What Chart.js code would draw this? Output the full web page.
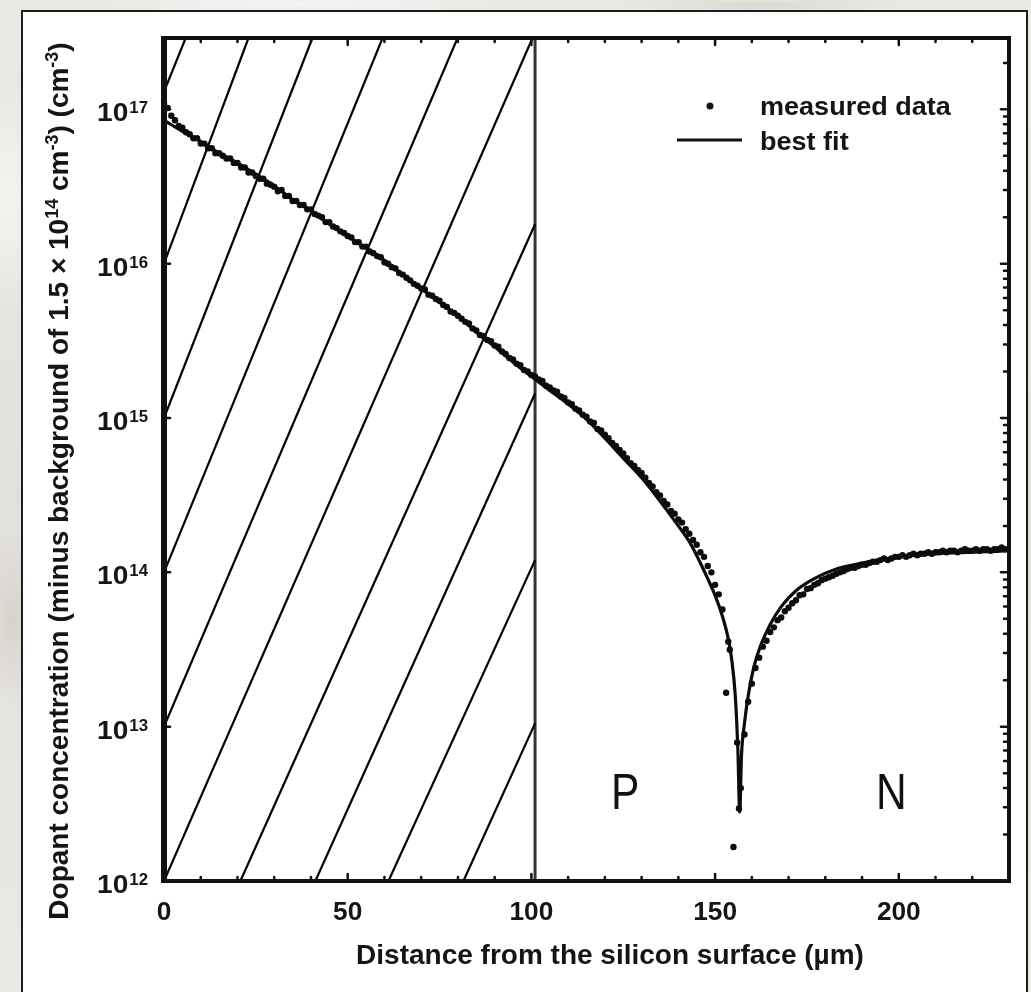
<!DOCTYPE html>
<html>
<head>
<meta charset="utf-8">
<title>Dopant profile</title>
<script src="https://cdn.jsdelivr.net/npm/chart.js@4.4.1/dist/chart.umd.min.js"></script>
<style>
  html, body { margin: 0; padding: 0; width: 1031px; height: 992px; overflow: hidden; }
  body {
    background-color: #e7e5e0;
    background-image:
      radial-gradient(ellipse 40px 120px at 8px 200px, rgba(255,255,255,0.55), transparent),
      radial-gradient(ellipse 30px 90px at 12px 620px, rgba(200,196,188,0.5), transparent),
      radial-gradient(ellipse 200px 14px at 300px 4px, rgba(255,255,255,0.5), transparent),
      radial-gradient(ellipse 160px 10px at 760px 5px, rgba(205,201,194,0.5), transparent),
      linear-gradient(180deg, #ebe9e4, #e2e0da 50%, #ebe9e5);
  }
  #card {
    position: absolute; left: 21px; top: 10px;
    width: 1003px; height: 1000px;
    background: #fff; border: 2px solid #1c1c1c;
  }
  #wrap { position: absolute; left: 0; top: 0; width: 1031px; height: 992px; }
</style>
</head>
<body>
<div id="card"></div>
<div id="wrap"><canvas id="profileChart"></canvas></div>
<script>
// measured profile, depth in um and concentration in cm^-3
const measuredDepth = [
  0, 1, 2, 3, 4, 5, 6, 7, 8, 9,
  10, 11, 12, 13, 14, 15, 16, 17, 18, 19,
  20, 21, 22, 23, 24, 25, 26, 27, 28, 29,
  30, 31, 32, 33, 34, 35, 36, 37, 38, 39,
  40, 41, 42, 43, 44, 45, 46, 47, 48, 49,
  50, 51, 52, 53, 54, 55, 56, 57, 58, 59,
  60, 61, 62, 63, 64, 65, 66, 67, 68, 69,
  70, 71, 72, 73, 74, 75, 76, 77, 78, 79,
  80, 81, 82, 83, 84, 85, 86, 87, 88, 89,
  90, 91, 92, 93, 94, 95, 96, 97, 98, 99,
  100, 101, 102, 103, 104, 105, 106, 107, 108, 109,
  110, 111, 112, 113, 114, 115, 116, 117, 118, 119,
  120, 121, 122, 123, 124, 125, 126, 127, 128, 129,
  130, 131, 132, 133, 134, 135, 136, 137, 138, 139,
  140, 141, 142, 143, 144, 145, 146, 147, 148, 149,
  150, 151, 152, 153, 153.6, 154, 155, 156, 156.5, 157, 158, 159,
  160, 161, 162, 163, 164, 165, 166, 167, 168, 169,
  170, 171, 172, 173, 174, 175, 176, 177, 178, 179,
  180, 181, 182, 183, 184, 185, 186, 187, 188, 189,
  190, 191, 192, 193, 194, 195, 196, 197, 198, 199,
  200, 201, 202, 203, 204, 205, 206, 207, 208, 209,
  210, 211, 212, 213, 214, 215, 216, 217, 218, 219,
  220, 221, 222, 223, 224, 225, 226, 227, 228, 229, 230
];
const measuredConc = [
  1.1e17, 1.02e17, 9.1e16, 8.5e16, 7.8e16, 7.6e16, 7.1e16, 6.9e16, 6.5e16, 6.5e16,
  6.0e16, 6.0e16, 5.6e16, 5.6e16, 5.2e16, 5.2e16, 5.0e16, 4.8e16, 4.8e16, 4.5e16,
  4.5e16, 4.2e16, 4.2e16, 3.9e16, 3.9e16, 3.7e16, 3.55e16, 3.55e16, 3.3e16, 3.25e16,
  3.15e16, 2.95e16, 3.0e16, 2.75e16, 2.75e16, 2.55e16, 2.55e16, 2.4e16, 2.4e16, 2.25e16,
  2.25e16, 2.1e16, 2.05e16, 2.0e16, 1.86e16, 1.86e16, 1.74e16, 1.7e16, 1.62e16, 1.58e16,
  1.51e16, 1.48e16, 1.38e16, 1.38e16, 1.29e16, 1.29e16, 1.2e16, 1.17e16, 1.12e16, 1.1e16,
  1.02e16, 1.0e16, 9.5e15, 9.3e15, 8.7e15, 8.5e15, 8.1e15, 7.8e15, 7.4e15, 7.2e15,
  6.9e15, 6.8e15, 6.3e15, 6.2e15, 5.9e15, 5.75e15, 5.4e15, 5.25e15, 4.9e15, 4.8e15,
  4.6e15, 4.4e15, 4.2e15, 4.1e15, 3.8e15, 3.7e15, 3.45e15, 3.4e15, 3.2e15, 3.15e15,
  2.95e15, 2.9e15, 2.7e15, 2.6e15, 2.45e15, 2.4e15, 2.25e15, 2.2e15, 2.05e15, 2.0e15,
  1.9e15, 1.86e15, 1.78e15, 1.74e15, 1.62e15, 1.58e15, 1.51e15, 1.48e15, 1.38e15, 1.35e15,
  1.26e15, 1.23e15, 1.15e15, 1.12e15, 1.05e15, 1.02e15, 9.5e14, 9.3e14, 8.5e14, 8.3e14,
  7.8e14, 7.4e14, 6.9e14, 6.6e14, 6.2e14, 5.9e14, 5.5e14, 5.1e14, 4.9e14, 4.6e14,
  4.4e14, 4.1e14, 3.8e14, 3.6e14, 3.3e14, 3.15e14, 2.9e14, 2.75e14, 2.5e14, 2.4e14,
  2.2e14, 2.1e14, 1.9e14, 1.78e14, 1.62e14, 1.51e14, 1.35e14, 1.26e14, 1.1e14, 1.0e14,
  8.3e13, 7.2e13, 5.75e13, 1.66e13, 3.55e13, 3.15e13, 1.66e12, 7.9e12, 2.95e12, 4.0e12, 8.9e12, 1.45e13,
  1.9e13, 2.4e13, 2.8e13, 3.3e13, 3.6e13, 4.1e13, 4.4e13, 4.9e13, 5.1e13, 5.6e13,
  5.9e13, 6.3e13, 6.6e13, 7.1e13, 7.2e13, 7.8e13, 7.9e13, 8.3e13, 8.5e13, 8.9e13,
  9.1e13, 9.3e13, 9.5e13, 9.8e13, 1.0e14, 1.02e14, 1.05e14, 1.07e14, 1.07e14, 1.1e14,
  1.12e14, 1.12e14, 1.15e14, 1.17e14, 1.17e14, 1.2e14, 1.23e14, 1.2e14, 1.23e14, 1.26e14,
  1.26e14, 1.29e14, 1.26e14, 1.29e14, 1.32e14, 1.29e14, 1.32e14, 1.32e14, 1.35e14, 1.32e14,
  1.35e14, 1.35e14, 1.38e14, 1.35e14, 1.38e14, 1.38e14, 1.35e14, 1.38e14, 1.41e14, 1.38e14,
  1.38e14, 1.41e14, 1.38e14, 1.41e14, 1.41e14, 1.38e14, 1.41e14, 1.41e14, 1.45e14, 1.41e14, 1.41e14
];

// fitted profile
const fitDepth = [
  0, 5, 10, 15, 20, 25, 30, 35, 40, 45, 50, 55, 60, 65, 70, 75, 80, 85, 90, 95,
  100, 105, 110, 115, 120, 125, 130, 135, 140, 143, 146, 148, 150, 152,
  153.5, 154.5, 155.5, 156.2, 156.7, 157.2, 158, 159, 160.5, 162.5, 165, 168,
  172, 177, 183, 190, 200, 210, 220, 230
];
const fitConc = [
  8.5e16, 7.2e16, 6.2e16, 5.2e16, 4.5e16, 3.8e16, 3.2e16, 2.6e16, 2.2e16, 1.8e16,
  1.5e16, 1.26e16, 1.05e16, 8.5e15, 6.9e15, 5.6e15, 4.6e15, 3.6e15, 2.9e15, 2.3e15,
  1.86e15, 1.51e15, 1.23e15, 9.8e14, 7.4e14, 5.5e14, 4.1e14, 2.9e14, 2.0e14, 1.58e14,
  1.15e14, 9.1e13, 7.1e13, 5.2e13, 3.8e13, 2.75e13, 1.58e13, 7.1e12, 2.8e12, 6.6e12,
  1.05e13, 1.58e13, 2.4e13, 3.4e13, 4.6e13, 6.0e13, 7.6e13, 9.1e13, 1.05e14, 1.15e14,
  1.26e14, 1.32e14, 1.35e14, 1.38e14
];

// hatched region (0 .. interface), each stroke from -> to
const hatchFromX = [0, 0, 0, 0, 0, 0, 20.8, 41.2, 61.1, 81.5];
const hatchFromY = [1.3e17, 1e16, 1e15, 1e14, 1e13, 1e12, 1e12, 1e12, 1e12, 1e12];
const hatchToX = [5.9, 23.0, 40.4, 59.5, 79.9, 100.3, 101, 101, 101, 101];
const hatchToY = [2.9e17, 2.9e17, 2.9e17, 2.9e17, 2.9e17, 2.9e17, 1.8e16, 1.44e15, 1.2e14, 1.05e13];
const interfaceDepth = 101;

// axes
const xMin = 0, xMax = 230;
const yMin = 1e12, yMax = 2.9e17;
const xTickLabels = [0, 50, 100, 150, 200];
const yTickExponents = [12, 13, 14, 15, 16, 17];

const FONT = '"Liberation Sans", Arial, sans-serif';

const hatchSets = hatchFromX.map((x0, i) => ({
  label: 'hatch',
  data: [{ x: x0, y: hatchFromY[i] }, { x: hatchToX[i], y: hatchToY[i] }],
  showLine: true,
  borderColor: '#000',
  borderWidth: 2.2,
  pointRadius: 0,
}));

function drawStretched(ctx, str, x, y, stretch) {
  ctx.save();
  ctx.translate(x, y);
  ctx.scale(stretch, 1);
  ctx.fillText(str, 0, 0);
  ctx.restore();
}

// box, inward ticks, tick labels, titles, legend and region letters
const decorPlugin = {
  id: 'decor',
  afterDatasetsDraw(chart) {
    const { ctx, chartArea: a, scales: { x, y } } = chart;
    const mark = (x1, y1, x2, y2) => {
      ctx.beginPath(); ctx.moveTo(x1, y1); ctx.lineTo(x2, y2); ctx.stroke();
    };
    ctx.save();
    ctx.fillStyle = '#111';
    ctx.fillRect(a.left - 3, a.top - 2, 6, a.bottom - a.top + 4);
    ctx.fillRect(a.left - 3, a.bottom - 2, a.right - a.left + 5, 4);
    ctx.fillRect(a.left - 3, a.top - 2, a.right - a.left + 5, 4);
    ctx.fillRect(a.right - 2, a.top - 2, 4, a.bottom - a.top + 4);

    ctx.strokeStyle = '#111';
    ctx.lineWidth = 2.5;
    ctx.lineCap = 'round';
    for (let v = xMin; v <= xMax; v += 10) {
      const px = x.getPixelForValue(v);
      const len = v % 50 === 0 ? 7 : 4;
      mark(px, a.bottom, px, a.bottom - len);
      mark(px, a.top, px, a.top + len);
    }
    yTickExponents.forEach(e => {
      for (let m = 1; m < 10; m++) {
        const v = m * Math.pow(10, e);
        if (v > yMax) break;
        const py = y.getPixelForValue(v);
        if (m === 1) {
          mark(a.left, py, a.left + 6, py);
          mark(a.right, py, a.right - 8, py);
        } else {
          mark(a.right, py, a.right - 5, py);
        }
      }
    });

    // x tick labels
    ctx.fillStyle = '#151515';
    ctx.textAlign = 'center';
    ctx.textBaseline = 'alphabetic';
    ctx.font = 'bold 25px ' + FONT;
    xTickLabels.forEach(v => drawStretched(ctx, String(v), x.getPixelForValue(v), a.bottom + 39, 1.05));

    // y tick labels as 10 with raised exponent
    yTickExponents.forEach(e => {
      const py = y.getPixelForValue(Math.pow(10, e));
      ctx.font = 'bold 16px ' + FONT;
      ctx.textAlign = 'left';
      const ew = ctx.measureText(String(e)).width * 1.05;
      const right = a.left - 16;
      drawStretched(ctx, String(e), right - ew, py + 4, 1.05);
      ctx.font = 'bold 26px ' + FONT;
      ctx.textAlign = 'right';
      drawStretched(ctx, '10', right - ew - 1, py + 12, 1.08);
    });

    // x title
    ctx.font = 'bold 28px ' + FONT;
    ctx.textAlign = 'center';
    ctx.fillText('Distance from the silicon surface (\u00b5m)', 610, a.bottom + 83);

    // y title with superscripts
    const segs = [
      ['Dopant concentration (minus background of 1.5 \u00d7 10', false],
      ['14', true], [' cm', false], ['-3', true], [') (cm', false], ['-3', true], [')', false]
    ];
    ctx.save();
    ctx.translate(68, 481);
    ctx.rotate(-Math.PI / 2);
    ctx.textAlign = 'left';
    let total = 0;
    segs.forEach(([t, sup]) => {
      ctx.font = (sup ? 'bold 18px ' : 'bold 28px ') + FONT;
      total += ctx.measureText(t).width;
    });
    let cx = -total / 2;
    segs.forEach(([t, sup]) => {
      ctx.font = (sup ? 'bold 18px ' : 'bold 28px ') + FONT;
      ctx.fillText(t, cx, sup ? -10 : 0);
      cx += ctx.measureText(t).width;
    });
    ctx.restore();

    // legend
    const ds = chart.data.datasets;
    ctx.font = 'bold 26px ' + FONT;
    ctx.textAlign = 'left';
    ctx.beginPath();
    ctx.arc(710, 106, 3.5, 0, Math.PI * 2);
    ctx.fill();
    drawStretched(ctx, ds[0].label, 760, 115, 1.04);
    ctx.lineWidth = 3;
    ctx.lineCap = 'butt';
    mark(677, 140, 742, 140);
    drawStretched(ctx, ds[1].label, 760, 150, 1.04);

    // region letters
    ctx.font = '50px ' + FONT;
    ctx.textAlign = 'center';
    ctx.textBaseline = 'middle';
    ctx.fillStyle = '#111';
    drawStretched(ctx, 'P', x.getPixelForValue(125.5), y.getPixelForValue(3.6e12), 0.85);
    drawStretched(ctx, 'N', x.getPixelForValue(198), y.getPixelForValue(3.6e12), 0.85);
    ctx.restore();
  }
};

new Chart(document.getElementById('profileChart'), {
  type: 'scatter',
  data: {
    datasets: [
      {
        label: 'measured data',
        data: measuredDepth.map((d, i) => ({ x: d, y: measuredConc[i] })),
        pointRadius: 3.2,
        pointBorderWidth: 0,
        pointBackgroundColor: '#0c0c0c',
        showLine: false,
      },
      {
        label: 'best fit',
        data: fitDepth.map((d, i) => ({ x: d, y: fitConc[i] })),
        showLine: true,
        borderColor: '#0c0c0c',
        borderWidth: 3.2,
        pointRadius: 0,
        cubicInterpolationMode: 'monotone',
      },
      ...hatchSets,
      {
        label: 'interface',
        data: [{ x: interfaceDepth, y: yMin }, { x: interfaceDepth, y: yMax }],
        showLine: true,
        borderColor: '#333',
        borderWidth: 3,
        pointRadius: 0,
      },
    ],
  },
  options: {
    responsive: true,
    maintainAspectRatio: false,
    animation: false,
    layout: { padding: { left: 164, right: 22, top: 38, bottom: 111 } },
    plugins: { legend: { display: false }, tooltip: { enabled: false } },
    scales: {
      x: { type: 'linear', min: xMin, max: xMax, display: false },
      y: { type: 'logarithmic', min: yMin, max: yMax, display: false },
    },
  },
  plugins: [decorPlugin],
});
</script>
</body>
</html>
